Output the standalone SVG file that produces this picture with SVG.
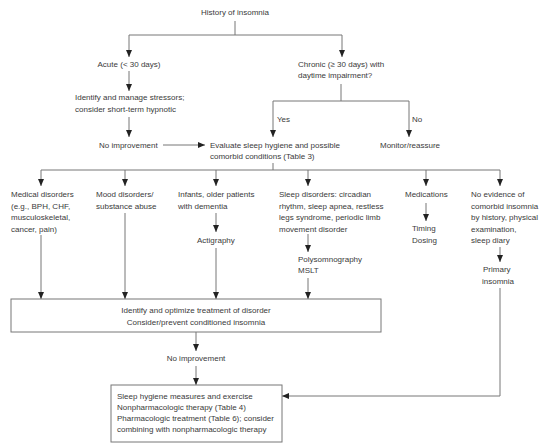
<svg xmlns="http://www.w3.org/2000/svg" width="550" height="447" viewBox="0 0 550 447">
<defs>
<style>
text{font-family:"Liberation Sans",Arial,sans-serif;font-size:8px;fill:#3a3a3a}
.c{text-anchor:middle}
.ln{fill:none;stroke:#777;stroke-width:1}
.bx{fill:#fff;stroke:#777;stroke-width:1}
</style>
<marker id="ah" viewBox="0 0 7 6" refX="7" refY="3" markerWidth="7" markerHeight="6" orient="auto" markerUnits="userSpaceOnUse"><path d="M0,0 L7,3 L0,6 z" fill="#222"/></marker>
</defs>
<rect width="550" height="447" fill="#fff"/>
<g id="connectors">
<path class="ln" d="M235,21 V35 M129,35 H342"/>
<path class="ln" d="M129,35 V57" marker-end="url(#ah)"/>
<path class="ln" d="M342,35 V57" marker-end="url(#ah)"/>
<path class="ln" d="M129,71 V91" marker-end="url(#ah)"/>
<path class="ln" d="M129,117 V137" marker-end="url(#ah)"/>
<path class="ln" d="M163,145 H205" marker-end="url(#ah)"/>
<path class="ln" d="M341,84 V101 M273,101 H409"/>
<path class="ln" d="M273,101 V137" marker-end="url(#ah)"/>
<path class="ln" d="M409,101 V137" marker-end="url(#ah)"/>
<path class="ln" d="M273,163 V170 M41,170 H500"/>
<path class="ln" d="M41,170 V186" marker-end="url(#ah)"/>
<path class="ln" d="M125,170 V186" marker-end="url(#ah)"/>
<path class="ln" d="M216,170 V186" marker-end="url(#ah)"/>
<path class="ln" d="M308,170 V186" marker-end="url(#ah)"/>
<path class="ln" d="M426,170 V186" marker-end="url(#ah)"/>
<path class="ln" d="M500,170 V186" marker-end="url(#ah)"/>
<path class="ln" d="M216,213 V232" marker-end="url(#ah)"/>
<path class="ln" d="M308,234 V252" marker-end="url(#ah)"/>
<path class="ln" d="M426,203 V221" marker-end="url(#ah)"/>
<path class="ln" d="M500,247 V262" marker-end="url(#ah)"/>
<path class="ln" d="M41,235 V299" marker-end="url(#ah)"/>
<path class="ln" d="M125,213 V299" marker-end="url(#ah)"/>
<path class="ln" d="M216,248 V299" marker-end="url(#ah)"/>
<path class="ln" d="M308,278 V299" marker-end="url(#ah)"/>
<path class="ln" d="M196,332 V351" marker-end="url(#ah)"/>
<path class="ln" d="M196,366 V385" marker-end="url(#ah)"/>
<path class="ln" d="M500,288 V396 H282" marker-end="url(#ah)"/>
</g>
<g id="history"><text class="c" x="235" y="15">History of insomnia</text></g>
<g id="acute"><text class="c" x="129" y="67">Acute (&lt; 30 days)</text></g>
<g id="stressors"><text x="75" y="100">Identify and manage stressors;</text><text x="75" y="112">consider short-term hypnotic</text></g>
<g id="noimp1"><text x="99" y="148">No improvement</text></g>
<g id="chronic"><text x="298" y="67">Chronic (≥ 30 days) with</text><text x="298" y="78">daytime impairment?</text></g>
<g id="yes"><text x="277" y="122">Yes</text></g>
<g id="no"><text x="412" y="122">No</text></g>
<g id="evaluate"><text x="210" y="148">Evaluate sleep hygiene and possible</text><text x="210" y="159">comorbid conditions (Table 3)</text></g>
<g id="monitor"><text x="380" y="148">Monitor/reassure</text></g>
<g id="medical"><text x="11" y="197">Medical disorders</text><text x="11" y="208.5">(e.g., BPH, CHF,</text><text x="11" y="220">musculoskeletal,</text><text x="11" y="231.5">cancer, pain)</text></g>
<g id="mood"><text x="96" y="197">Mood disorders/</text><text x="96" y="208.5">substance abuse</text></g>
<g id="infants"><text x="178" y="197">Infants, older patients</text><text x="178" y="208.5">with dementia</text></g>
<g id="actigraphy"><text x="197" y="243">Actigraphy</text></g>
<g id="sleepdis"><text x="279" y="197">Sleep disorders: circadian</text><text x="279" y="208.5">rhythm, sleep apnea, restless</text><text x="279" y="220">legs syndrome, periodic limb</text><text x="279" y="231.5">movement disorder</text></g>
<g id="psg"><text x="298" y="262">Polysomnography</text><text x="298" y="273">MSLT</text></g>
<g id="medications"><text x="405" y="197">Medications</text></g>
<g id="timing"><text x="412" y="231">Timing</text><text x="412" y="243">Dosing</text></g>
<g id="noevidence"><text x="471" y="197">No evidence of</text><text x="471" y="208.5">comorbid insomnia</text><text x="471" y="220">by history, physical</text><text x="471" y="231.5">examination,</text><text x="471" y="243">sleep diary</text></g>
<g id="primary"><text x="483" y="272">Primary</text><text x="482" y="284">insomnia</text></g>
<g id="optimize"><rect class="bx" x="11" y="299" width="370" height="33"/><text class="c" x="196" y="313">Identify and optimize treatment of disorder</text><text class="c" x="196" y="325">Consider/prevent conditioned insomnia</text></g>
<g id="noimp2"><text class="c" x="196" y="361">No improvement</text></g>
<g id="treatment"><rect class="bx" x="111" y="385" width="171" height="57"/><text x="117" y="399">Sleep hygiene measures and exercise</text><text x="117" y="410">Nonpharmacologic therapy (Table 4)</text><text x="117" y="421">Pharmacologic treatment (Table 6); consider</text><text x="117" y="432">combining with nonpharmacologic therapy</text></g>
</svg>
